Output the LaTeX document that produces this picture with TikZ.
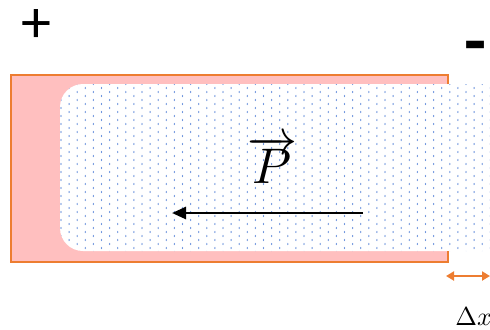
\documentclass[tikz,border=0pt]{standalone}
\usepackage{fontspec}
\setmainfont{Carlito}
\usepackage{graphicx}
\usepackage{xcolor}
\usepackage{tikz}
\usetikzlibrary{arrows.meta}

\definecolor{slabpink}{RGB}{255,191,191}
\definecolor{edgeorange}{RGB}{237,125,49}
\definecolor{dotblue}{RGB}{112,150,222}

\begin{document}
\begin{tikzpicture}[x=0.5pt,y=-0.5pt]
    \tikzstyle{electrode} = [draw=edgeorange, line width=0.8pt]
    \tikzstyle{sign} = [inner sep=0pt]
    \tikzstyle{polarrow} = [-{Triangle[length=7pt,width=6pt]}, line width=1.3pt]
    \tikzstyle{gapmark} = [{Triangle[length=4pt,width=4.5pt]}-{Triangle[length=4pt,width=4.5pt]}, draw=edgeorange, line width=1pt]
    \useasboundingbox (0,0) rectangle (490,329);
    % slab and cavity
    \fill[slabpink] (11,75) rectangle (448,262);
    \fill[white, rounded corners=11.5pt] (60,84) rectangle (520,251);
    \begin{scope}
        \clip[rounded corners=11.5pt] (60,84) rectangle (520,251);
        \foreach \i in {0,...,53} {
            \foreach \j in {0,...,21} {
                \fill[dotblue] ({61+8.1*\i},{84+8*\j+4*mod(\i,2)}) ellipse (0.35pt and 0.6pt);
            }
        }
    \end{scope}
    \draw[electrode] (448,84) -- (448,75) -- (11,75) -- (11,262) -- (448,262) -- (448,251);
    % labels
    \node[sign, font=\fontsize{30}{30}\selectfont] (plus) at (36,26) {+};
    \node[sign, font=\fontsize{36}{36}\selectfont\bfseries] (minus) at (476,53) {-};
    \node[sign] (pol) at (272,160) {\scalebox{2.5}{$\overrightarrow{P}$}};
    \node[sign, anchor=base west] (dx) at (455,325) {\scalebox{1.3}{$\Delta x$}};
    % arrows
    \coordinate (ptail) at (363,213);
    \coordinate (phead) at (172,213);
    \draw[polarrow] (ptail) -- (phead);
    \coordinate (gapl) at (446,276);
    \coordinate (gapr) at (490,276);
    \draw[gapmark] (gapl) -- (gapr);
\end{tikzpicture}
\end{document}
